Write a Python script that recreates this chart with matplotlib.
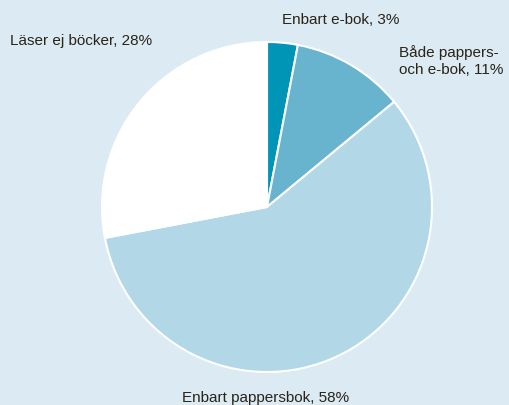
import matplotlib.pyplot as plt

kategorier = ['Enbart e-bok', 'Både pappers-\noch e-bok', 'Enbart pappersbok', 'Läser ej böcker']
andelar = [3, 11, 58, 28]
farger = ['#0095b6', '#68b3ce', '#b2d7e6', '#ffffff']

bg = '#dbeaf3'
fig = plt.figure(figsize=(5.09, 4.05), dpi=100, facecolor=bg)
ax = fig.add_axes([0, 0, 1, 1])
ax.set_facecolor(bg)

ax.pie(andelar, colors=farger, startangle=90, counterclock=False,
       center=(267, 198), radius=165, frame=True,
       wedgeprops={'edgecolor': 'white', 'linewidth': 1.5})
ax.set_xlim(0, 509)
ax.set_ylim(0, 405)
ax.set_aspect('equal')
ax.axis('off')

tx = dict(fontsize=11, color='#2a2317', family='Liberation Sans')
etiketter = [f'{k}, {v}%' for k, v in zip(kategorier, andelar)]
ax.text(282, 385, etiketter[0], va='center', ha='left', **tx)
ax.text(399, 344, etiketter[1], va='center', ha='left', linespacing=1.2, **tx)
ax.text(182, 7, etiketter[2], va='center', ha='left', **tx)
ax.text(10, 364, etiketter[3], va='center', ha='left', **tx)

fig.savefig('out.png', dpi=100, facecolor=bg)
